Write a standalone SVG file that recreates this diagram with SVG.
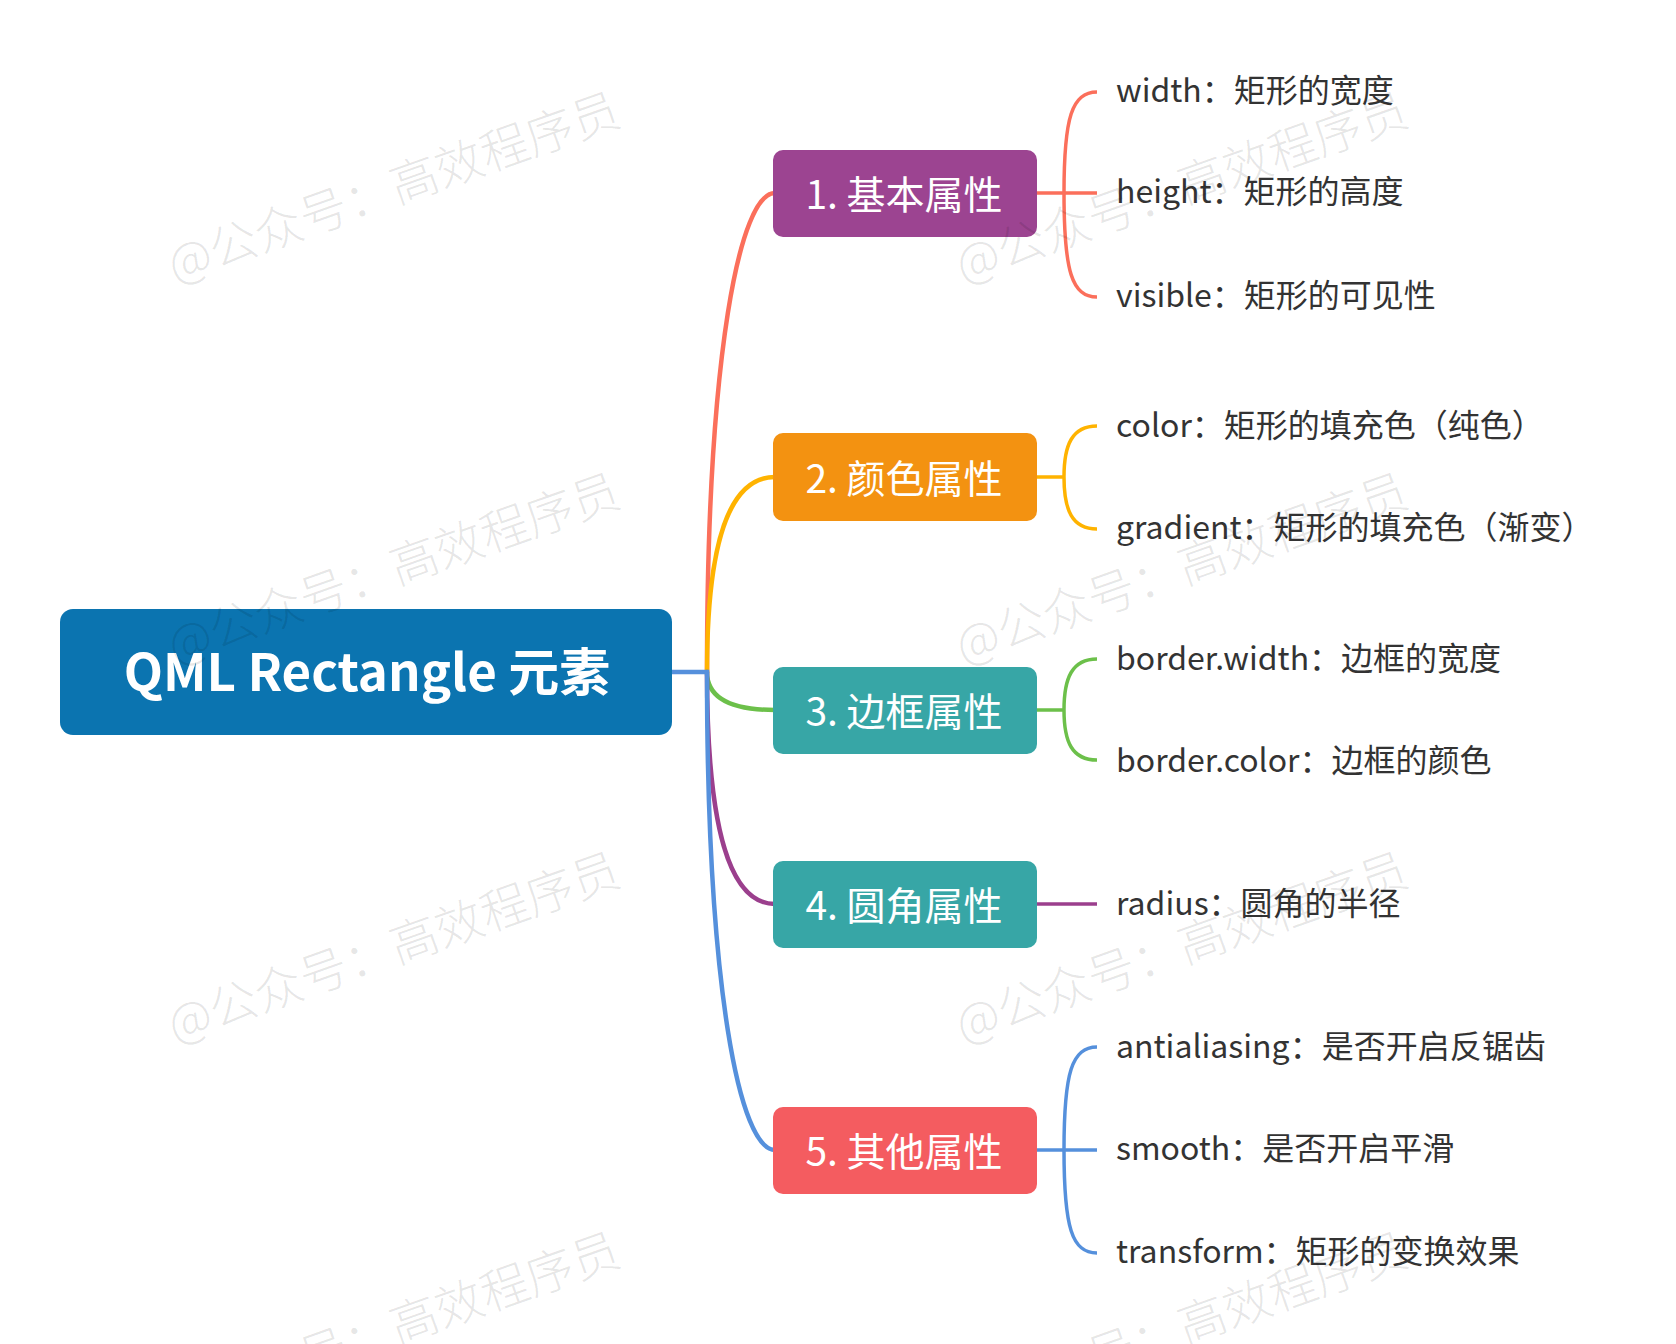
<svg xmlns="http://www.w3.org/2000/svg" width="1676" height="1344" viewBox="0 0 1676 1344">
<style>
.root{fill:#0b74b0}
.rootText{font-family:"Noto Sans CJK SC","Noto Sans",sans-serif;font-size:51px;font-weight:bold;fill:#fff;text-anchor:middle}
.boxText{font-family:"Noto Sans CJK SC","Noto Sans",sans-serif;font-size:39px;fill:#fff;text-anchor:middle}
.leaf{font-family:"Noto Sans CJK SC","Noto Sans",sans-serif;font-size:32px;fill:#333}
.main{fill:none;stroke-width:4.5;stroke-linecap:round}
.sub{fill:none;stroke-width:3.5;stroke-linecap:butt}
.wm{font-family:"Noto Sans CJK SC",sans-serif;font-size:48px;font-weight:300;fill:#000;fill-opacity:0.1}
</style>
<rect width="1676" height="1344" fill="#fff"/>
<g id="connectors">
  <path class="main" stroke="#fb6f5b" d="M707,672 C707,353 740,193 775,193"/>
  <path class="main" stroke="#ffb300" d="M707,672 C707,542 729,477 775,477"/>
  <path class="main" stroke="#6cc04a" d="M707,672 C707,697 729,710 775,710"/>
  <path class="main" stroke="#9b3f8d" d="M707,672 C707,827 729,904 775,904"/>
  <path class="main" stroke="#5590dc" d="M672,672 L707,672 C707,991 740,1150 775,1150"/>
  <path class="sub" stroke="#fb6f5b" d="M1037,193 L1097,193 M1064,193 C1064,117 1072,92 1097,92 M1064,193 C1064,272 1072,297 1097,297"/>
  <path class="sub" stroke="#ffb300" d="M1037,477 L1064,477 C1064,445 1072,426 1097,426 M1064,477 C1064,510 1072,529 1097,529"/>
  <path class="sub" stroke="#6cc04a" d="M1037,710 L1064,710 C1064,678 1072,659 1097,659 M1064,710 C1064,742 1072,760 1097,760"/>
  <path class="sub" stroke="#9b3f8d" d="M1037,904 L1097,904"/>
  <path class="sub" stroke="#5590dc" d="M1037,1150 L1097,1150 M1064,1150 C1064,1072 1072,1047 1097,1047 M1064,1150 C1064,1228 1072,1253 1097,1253"/>
</g>
<g id="root">
  <rect class="root" x="60" y="609" width="612" height="126" rx="13"/>
  <text class="rootText" x="367" y="691">QML Rectangle 元素</text>
</g>
<g id="n1">
  <rect x="773" y="150" width="264" height="87" rx="10" fill="#9c4491"/>
  <text class="boxText" x="904" y="209">1. 基本属性</text>
</g>
<g id="n2">
  <rect x="773" y="433" width="264" height="88" rx="10" fill="#f39211"/>
  <text class="boxText" x="904" y="493">2. 颜色属性</text>
</g>
<g id="n3">
  <rect x="773" y="667" width="264" height="87" rx="10" fill="#37a6a6"/>
  <text class="boxText" x="904" y="726">3. 边框属性</text>
</g>
<g id="n4">
  <rect x="773" y="861" width="264" height="87" rx="10" fill="#37a6a6"/>
  <text class="boxText" x="904" y="920">4. 圆角属性</text>
</g>
<g id="n5">
  <rect x="773" y="1107" width="264" height="87" rx="10" fill="#f45c60"/>
  <text class="boxText" x="904" y="1166">5. 其他属性</text>
</g>
<g id="leaf-width"><text class="leaf" x="1116" y="102">width：矩形的宽度</text></g>
<g id="leaf-height"><text class="leaf" x="1116" y="203">height：矩形的高度</text></g>
<g id="leaf-visible"><text class="leaf" x="1116" y="307">visible：矩形的可见性</text></g>
<g id="leaf-color"><text class="leaf" x="1116" y="437">color：矩形的填充色（纯色）</text></g>
<g id="leaf-gradient"><text class="leaf" x="1116" y="539">gradient：矩形的填充色（渐变）</text></g>
<g id="leaf-borderwidth"><text class="leaf" x="1116" y="670">border.width：边框的宽度</text></g>
<g id="leaf-bordercolor"><text class="leaf" x="1116" y="772">border.color：边框的颜色</text></g>
<g id="leaf-radius"><text class="leaf" x="1116" y="915">radius：圆角的半径</text></g>
<g id="leaf-antialiasing"><text class="leaf" x="1116" y="1058">antialiasing：是否开启反锯齿</text></g>
<g id="leaf-smooth"><text class="leaf" x="1116" y="1160">smooth：是否开启平滑</text></g>
<g id="leaf-transform"><text class="leaf" x="1116" y="1263">transform：矩形的变换效果</text></g>
<g id="watermarks">
  <text class="wm" x="175" y="283" transform="rotate(-19.5 175 283)">@公众号：高效程序员</text>
  <text class="wm" x="175" y="664" transform="rotate(-19.5 175 664)">@公众号：高效程序员</text>
  <text class="wm" x="175" y="1043" transform="rotate(-19.5 175 1043)">@公众号：高效程序员</text>
  <text class="wm" x="175" y="1423" transform="rotate(-19.5 175 1423)">@公众号：高效程序员</text>
  <text class="wm" x="963" y="283" transform="rotate(-19.5 963 283)">@公众号：高效程序员</text>
  <text class="wm" x="963" y="664" transform="rotate(-19.5 963 664)">@公众号：高效程序员</text>
  <text class="wm" x="963" y="1043" transform="rotate(-19.5 963 1043)">@公众号：高效程序员</text>
  <text class="wm" x="963" y="1423" transform="rotate(-19.5 963 1423)">@公众号：高效程序员</text>
</g>
</svg>
